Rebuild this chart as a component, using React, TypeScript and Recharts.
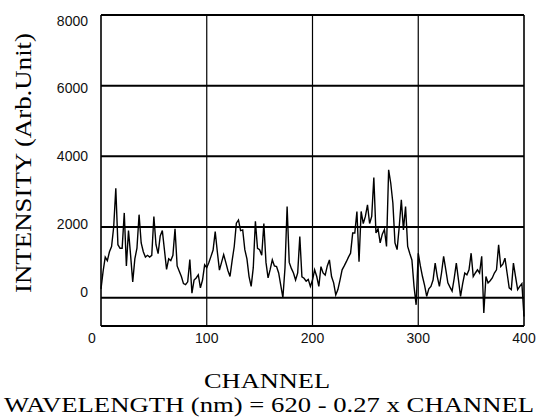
import React from 'react';
import { LineChart, Line, XAxis, YAxis, CartesianGrid, ReferenceLine } from 'recharts';

// Spectrum sampled every 2 channels, channels 0..400
const CHANNEL_STEP = 2;
const intensity: number[] = [
  250, 750, 1150, 1050, 1300, 1450, 2000, 3100, 1500, 1400,
  1400, 2400, 900, 1900, 1200, 450, 1100, 1400, 2350, 1550,
  1300, 1150, 1200, 1150, 1200, 2300, 1500, 1250, 1750, 1900,
  1350, 800, 1100, 1050, 1200, 1950, 900, 750, 600, 400,
  370, 450, 1080, 130, 500, 560, 650, 280, 500, 930,
  850, 1000, 1170, 1350, 1870, 1300, 780, 1000, 1220, 1000,
  770, 600, 1050, 1450, 2110, 2200, 1900, 1920, 1360, 1100,
  600, 320, 850, 2160, 1400, 1360, 1200, 2100, 1000, 560,
  800, 1070, 900, 880, 700, 350, 0, 850, 2580, 1000,
  830, 700, 500, 700, 1730, 590, 550, 470, 520, 320,
  500, 790, 600, 320, 880, 700, 640, 900, 1070, 600,
  420, 80, 230, 500, 790, 900, 1020, 1150, 1260, 1830,
  1830, 2440, 1020, 2440, 2100, 2300, 2630, 2100, 2300, 3400,
  1830, 1950, 1550, 1800, 1930, 1450, 3620, 3240, 2680, 1550,
  1360, 2000, 2770, 1920, 2580, 1450, 1250, 1070, 320, -200,
  1260, 900, 600, 350, 40, 250, 320, 500, 980, 600,
  320, 700, 1170, 800, 420, 300, 190, 550, 980, 510,
  40, 400, 700, 650, 790, 1260, 600, 700, 790, 700,
  1170, -430, 600, 420, 480, 560, 700, 790, 1500, 880,
  950, 1120, 700, 280, 230, 980, 600, 230, 320, 400,
  -530,
];

const xTicks = [0, 100, 200, 300, 400];
const yTicks = [0, 2000, 4000, 6000, 8000];
const channelGrid = [100, 200, 300];

const xTitle = 'CHANNEL';
const xSubtitle = 'WAVELENGTH (nm) = 620 - 0.27 x CHANNEL';
const yTitle = 'INTENSITY (Arb.Unit)';

const data = intensity.map((v, i) => ({ channel: i * CHANNEL_STEP, intensity: v }));

const tickFont = '"Liberation Sans", Arial, sans-serif';
const titleFont = '"Liberation Serif", "Times New Roman", serif';

const YTick = (props: any) => {
  const { x, y, payload } = props;
  const shift = ((payload.value - 4000) / 4000) * 5.5;
  return (
    <text x={x} y={y + shift} textAnchor="end" dominantBaseline="central"
      fontFamily={tickFont} fontSize={14} fill="#111">
      {payload.value}
    </text>
  );
};

const XTick = (props: any) => {
  const { x, y, payload } = props;
  const dx = payload.value === 0 ? -9 : 0;
  return (
    <text x={x + dx} y={y} dy="0.71em" textAnchor="middle"
      fontFamily={tickFont} fontSize={14} fill="#111">
      {payload.value}
    </text>
  );
};

export default function App() {
  return (
    <div style={{ position: 'absolute', left: 0, top: 0, width: 538, height: 418, background: '#fff' }}>
      <LineChart width={538} height={418} data={data}
        margin={{ top: 15, right: 14, left: 0, bottom: 62 }}>
        <CartesianGrid vertical={false} stroke="#000" strokeWidth={2} />
        {channelGrid.map((c) => (
          <ReferenceLine key={c} x={c} stroke="#000" strokeWidth={1.2} />
        ))}
        <ReferenceLine x={400} stroke="#000" strokeWidth={1.6} />
        <XAxis dataKey="channel" type="number" domain={[0, 400]} ticks={xTicks}
          height={30} tickLine={false} tickSize={4} tickMargin={3}
          axisLine={{ stroke: '#000', strokeWidth: 1.6 }} tick={<XTick />} />
        <YAxis type="number" domain={[-800, 8000]} ticks={yTicks} width={101}
          tickLine={false} tickSize={6} tickMargin={7} allowDataOverflow
          axisLine={{ stroke: '#000', strokeWidth: 1.6 }} tick={<YTick />} />
        <Line type="linear" dataKey="intensity" stroke="#000" strokeWidth={1.4}
          dot={false} isAnimationActive={false} />
      </LineChart>
      <svg width={538} height={418} style={{ position: 'absolute', left: 0, top: 0, pointerEvents: 'none' }}>
        <text x={23} y={163} transform="rotate(-90 23 163)" textAnchor="middle"
          dominantBaseline="central" fontFamily={titleFont} fontSize={24} fill="#000"
          textLength={260} lengthAdjust="spacingAndGlyphs">
          {yTitle}
        </text>
        <text x={267} y={388} textAnchor="middle" fontFamily={titleFont} fontSize={22} fill="#000"
          textLength={126} lengthAdjust="spacingAndGlyphs">
          {xTitle}
        </text>
        <text x={269} y={412} textAnchor="middle" fontFamily={titleFont} fontSize={22} fill="#000"
          textLength={530} lengthAdjust="spacingAndGlyphs">
          {xSubtitle}
        </text>
      </svg>
    </div>
  );
}
